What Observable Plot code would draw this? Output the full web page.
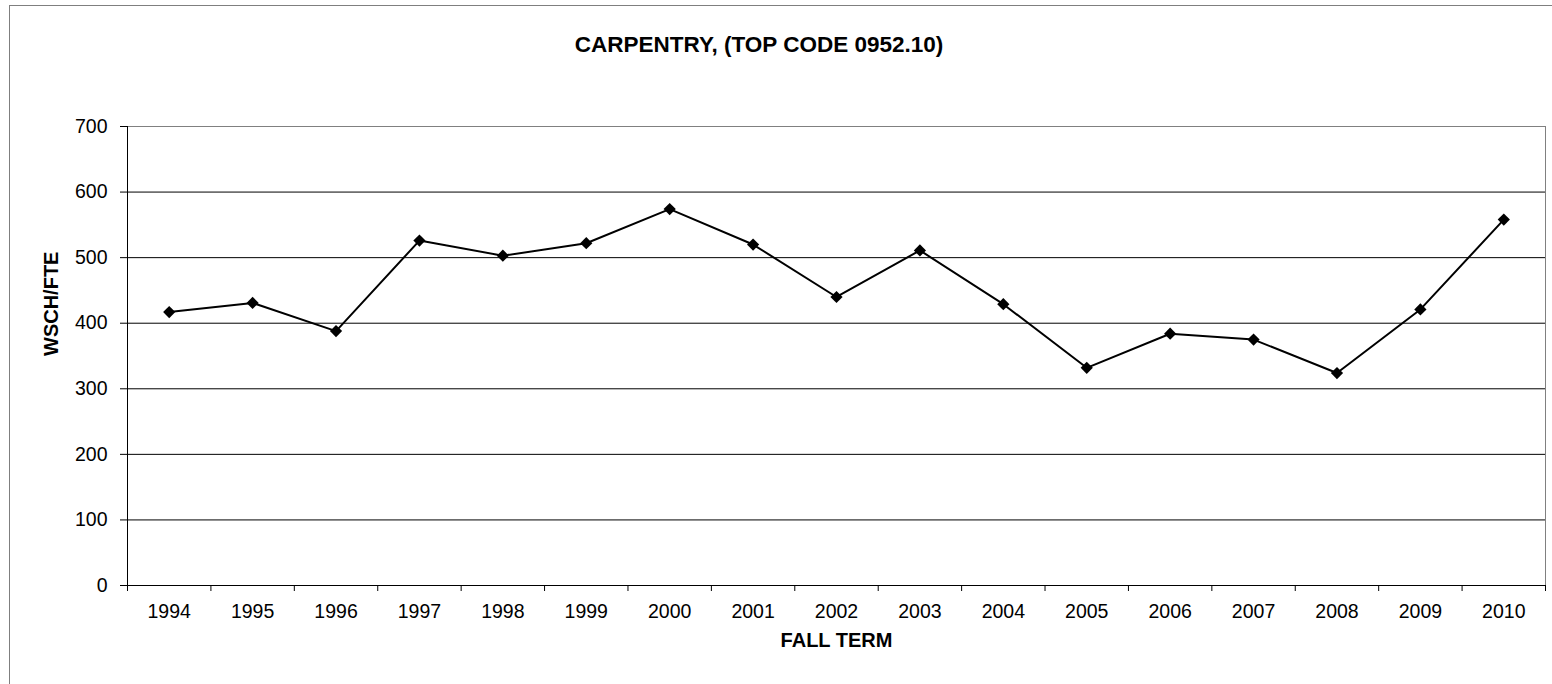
<!DOCTYPE html>
<html><head><meta charset="utf-8">
<script src="https://cdn.jsdelivr.net/npm/d3@7"></script>
<script src="https://cdn.jsdelivr.net/npm/@observablehq/plot@0.6"></script>
<style>
body{margin:0;background:#fff;width:1552px;height:684px;overflow:hidden;position:relative;font-family:"Liberation Sans",Arial,sans-serif;}
#chart{position:absolute;left:0;top:0;}
#border{position:absolute;left:9px;top:5px;width:1700px;height:800px;border:1px solid #7f7f7f;box-sizing:border-box;pointer-events:none;}
#title{position:absolute;left:0;top:34px;width:1518px;text-align:center;font-weight:bold;font-size:22.5px;line-height:22.5px;color:#000;}
</style></head><body>
<div id="chart"></div>
<div id="border"></div>
<div id="title"></div>
<script>
const titleText = "CARPENTRY, (TOP CODE 0952.10)";
const xLabel = "FALL TERM";
const yLabel = "WSCH/FTE";
const years = [1994, 1995, 1996, 1997, 1998, 1999, 2000, 2001, 2002, 2003, 2004, 2005, 2006, 2007, 2008, 2009, 2010];
const values = [417, 431, 388, 526, 503, 522, 574, 520, 440, 511, 429, 332, 384, 375, 324, 421, 558];
const yTicks = [0, 100, 200, 300, 400, 500, 600, 700];

document.getElementById("title").textContent = titleText;

const data = years.map((year, i) => ({year, value: values[i]}));
const boundaries = years.map(y => y - 0.5).concat([years[years.length - 1] + 0.5]);

const chart = Plot.plot({
  width: 1552,
  height: 684,
  marginLeft: 127,
  marginRight: 7,
  marginTop: 126,
  marginBottom: 99,
  style: {fontFamily: '"Liberation Sans", Arial, sans-serif', fontSize: "19.5px", color: "#000", background: "transparent", overflow: "visible"},
  x: {type: "linear", domain: [boundaries[0], boundaries[boundaries.length - 1]]},
  y: {domain: [0, 700]},
  marks: [
    Plot.gridY(yTicks, {stroke: "#000", strokeOpacity: 1}),
    Plot.frame({stroke: "#808080"}),
    Plot.ruleX([boundaries[0]], {stroke: "#000"}),
    Plot.ruleY([0], {stroke: "#000"}),
    Plot.axisY(yTicks, {tickSize: 7, tickPadding: 13, label: null}),
    Plot.axisX(boundaries, {tickSize: 6, tickFormat: () => "", label: null}),
    Plot.axisX(years, {tickSize: 0, tickPadding: 19, tickFormat: d => String(d), label: null}),
    Plot.text([yLabel], {text: d => d, frameAnchor: "left", dx: -76, rotate: -90, fontWeight: "bold", fontSize: 20}),
    Plot.text([xLabel], {text: d => d, frameAnchor: "bottom", dy: 61, fontWeight: "bold", fontSize: 20}),
    Plot.line(data, {x: "year", y: "value", stroke: "#000", strokeWidth: 2}),
    Plot.dot(data, {x: "year", y: "value", symbol: "diamond2", fill: "#000", stroke: "none", r: 5.5})
  ]
});
document.getElementById("chart").appendChild(chart);
</script>
</body></html>
